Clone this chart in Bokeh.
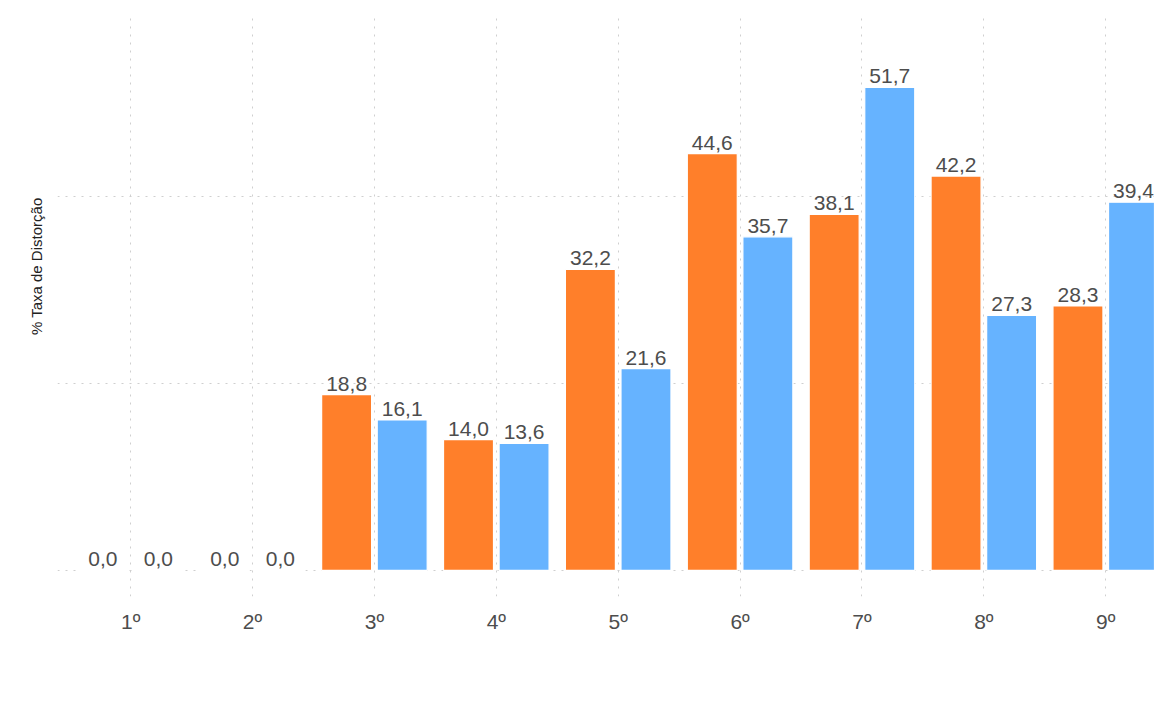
import math
from bokeh.plotting import figure
from bokeh.models import ColumnDataSource, Range1d, FixedTicker, Legend, LegendItem, Title
from bokeh.core.properties import value
from bokeh.embed import file_html
from bokeh.resources import INLINE

categories = ["1º", "2º", "3º", "4º", "5º", "6º", "7º", "8º", "9º"]
urbana = [0.0, 0.0, 18.8, 14.0, 32.2, 44.6, 38.1, 42.2, 28.3]
rural = [0.0, 0.0, 16.1, 13.6, 21.6, 35.7, 51.7, 27.3, 39.4]
y_grid_ticks = [0, 20, 40]

ORANGE = "#ff7f2a"
BLUE = "#66b3ff"
FONT = "Liberation Sans"
OFF = 0.228
W = 0.41

pos = list(range(1, len(categories) + 1))

p = figure(frame_width=1097, frame_height=583, output_backend="svg", toolbar_location=None,
           x_range=Range1d(0.4, 9.4), y_range=Range1d(-2.8, 59.6),
           min_border_left=57, min_border_right=0, min_border_top=13, min_border_bottom=0)
p.outline_line_color = None
p.background_fill_color = "white"

src_u = ColumnDataSource(dict(x=[c - OFF for c in pos], top=urbana,
                              lab=[f"{v:.1f}".replace(".", ",") for v in urbana]))
src_r = ColumnDataSource(dict(x=[c + OFF for c in pos], top=rural,
                              lab=[f"{v:.1f}".replace(".", ",") for v in rural]))

ru = p.vbar(x="x", top="top", bottom=0, width=W, source=src_u, fill_color=ORANGE,
            line_color="white", line_width=1.2)
rr = p.vbar(x="x", top="top", bottom=0, width=W, source=src_r, fill_color=BLUE,
            line_color="white", line_width=1.2)
# invisible spacer renderer used only to shift the legend to the right
spacer = p.vbar(x=[], top=[], bottom=0, width=W, fill_alpha=0, line_alpha=0)

for s in (src_u, src_r):
    p.text(x="x", y="top", text="lab", source=s, text_align="center",
           text_baseline="alphabetic", y_offset=-11, text_color="#4d4d4d",
           text_font=value(FONT), text_font_size="21px")

# axes
p.xaxis.ticker = FixedTicker(ticks=pos)
p.xaxis.major_label_overrides = {c: lab for c, lab in zip(pos, categories)}
p.xaxis.major_label_text_font = FONT
p.xaxis.major_label_text_font_size = "21px"
p.xaxis.major_label_text_color = "#4d4d4d"
p.xaxis.major_label_standoff = 13
p.xaxis.axis_line_color = None
p.xaxis.major_tick_line_color = None
p.xaxis.minor_tick_line_color = None
p.xaxis.major_tick_out = 0
p.xaxis.major_tick_in = 0
p.xaxis.axis_label = " "
p.xaxis.axis_label_text_font_size = "15px"
p.xaxis.axis_label_standoff = 4

p.yaxis.visible = False
p.ygrid.ticker = FixedTicker(ticks=y_grid_ticks)

for g in (p.xgrid, p.ygrid):
    g.grid_line_color = "#cfcfcf"
    g.grid_line_dash = "2 6"
    g.grid_line_width = 1

p.add_layout(Title(text="% Taxa de Distorção", align="right", offset=184,
                   text_font=FONT, text_font_size="15px", text_font_style="normal",
                   text_color="#222222", standoff=25), "left")

legend = Legend(items=[LegendItem(label=" ", renderers=[spacer]),
                       LegendItem(label="Urbana", renderers=[ru]),
                       LegendItem(label="Rural", renderers=[rr])],
                orientation="horizontal", location="center",
                glyph_width=45, glyph_height=37, label_standoff=17, spacing=16,
                label_text_font=FONT, label_text_font_size="23px", label_text_color="#1a1a1a",
                padding=0, margin=0, border_line_color=None, background_fill_alpha=0)
p.add_layout(legend, "below")

open("out.html", "w").write(file_html(p, INLINE))
